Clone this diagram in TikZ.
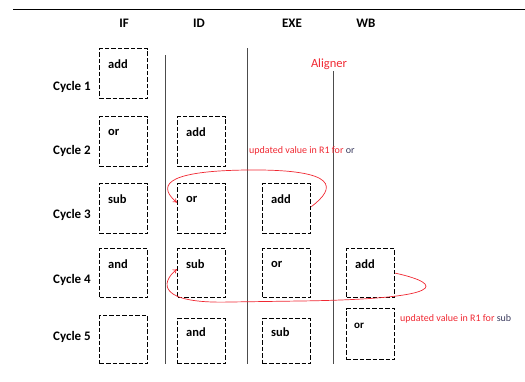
\documentclass[tikz,border=0pt]{standalone}
\usepackage{fontspec}
\setmainfont{Carlito}
\usetikzlibrary{arrows.meta}
\definecolor{redx}{RGB}{240,40,50}
\definecolor{bluegray}{RGB}{60,60,95}
\tikzset{
  stagebox/.style={draw, dashed, dash pattern=on 4.5pt off 2pt, line width=1.3pt, minimum width=48pt, minimum height=50pt, inner sep=0pt, anchor=north west},
  boxtext/.style={font=\fontsize{12.5}{14}\selectfont\bfseries, anchor=west, inner sep=1pt},
  cyclelabel/.style={font=\fontsize{13}{15}\selectfont\bfseries, anchor=east, inner sep=0pt},
  header/.style={font=\fontsize{13}{15}\selectfont\bfseries, inner sep=0pt},
  sep/.style={draw=black!70, line width=0.8pt},
  note/.style={font=\fontsize{10}{12}\selectfont, text=redx, anchor=west, inner sep=0pt},
  fwd/.style={draw=redx, line width=0.7pt, -{To[length=4pt,width=5pt]}}
}
\begin{document}
\begin{tikzpicture}[x=1pt,y=-1pt]
\useasboundingbox (0,0) rectangle (525,381);
\draw[line width=1pt] (13,9.5) -- (525,9.5);
% headers
\node[header] (hIF) at (124,23) {IF};
\node[header] (hID) at (199,23) {ID};
\node[header] (hEXE) at (292,23) {EXE};
\node[header] (hWB) at (366,23) {WB};
% separators
\draw[sep] (165,55) -- (165,364);
\draw[sep] (247,48) -- (247,364);
\draw[sep] (333,71) -- (333,364);
\node[font=\fontsize{12.5}{14}\selectfont, text=redx] (aligner) at (329,64) {Aligner};
% cycle labels
\node[cyclelabel] (c1) at (91,87) {Cycle 1};
\node[cyclelabel] (c2) at (91,151) {Cycle 2};
\node[cyclelabel] (c3) at (91,215) {Cycle 3};
\node[cyclelabel] (c4) at (91,280) {Cycle 4};
\node[cyclelabel] (c5) at (91,337) {Cycle 5};
% IF column
\node[stagebox] (if1) at (99,48) {};
\node[stagebox] (if2) at (99,116) {};
\node[stagebox] (if3) at (99,183) {};
\node[stagebox, minimum height=49pt] (if4) at (99,248) {};
\node[stagebox, minimum height=48pt] (if5) at (99,315) {};
% ID column
\node[stagebox] (id2) at (177,116) {};
\node[stagebox] (id3) at (177,183) {};
\node[stagebox, minimum height=49pt] (id4) at (177,248) {};
\node[stagebox, minimum height=45pt] (id5) at (177,318) {};
% EXE column
\node[stagebox] (ex3) at (262,183) {};
\node[stagebox, minimum height=49pt] (ex4) at (262,248) {};
\node[stagebox, minimum height=45pt] (ex5) at (262,318) {};
% WB column
\node[stagebox, minimum height=49pt] (wb4) at (346,248) {};
\node[stagebox, minimum height=51pt] (wb5) at (346,308) {};
% box texts
\node[boxtext] (tif1) at ([xshift=8pt,yshift=-16pt]if1.north west) {add};
\node[boxtext] (tif2) at ([xshift=8pt,yshift=-16pt]if2.north west) {or};
\node[boxtext] (tif3) at ([xshift=8pt,yshift=-16pt]if3.north west) {sub};
\node[boxtext] (tif4) at ([xshift=8pt,yshift=-16pt]if4.north west) {and};
\node[boxtext] (tid2) at ([xshift=8pt,yshift=-16pt]id2.north west) {add};
\node[boxtext] (tid3) at ([xshift=8pt,yshift=-16pt]id3.north west) {or};
\node[boxtext] (tid4) at ([xshift=8pt,yshift=-16pt]id4.north west) {sub};
\node[boxtext] (tid5) at ([xshift=8pt,yshift=-14pt]id5.north west) {and};
\node[boxtext] (tex3) at ([xshift=8pt,yshift=-16pt]ex3.north west) {add};
\node[boxtext] (tex4) at ([xshift=8pt,yshift=-16pt]ex4.north west) {or};
\node[boxtext] (tex5) at ([xshift=8pt,yshift=-14pt]ex5.north west) {sub};
\node[boxtext] (twb4) at ([xshift=8pt,yshift=-16pt]wb4.north west) {add};
\node[boxtext, font=\fontsize{11}{13}\selectfont\bfseries] (twb5) at ([xshift=7pt,yshift=-18pt]wb5.north west) {or};
% notes
\node[note] (n1) at (249,151) {updated value in R1 for \textcolor{bluegray}{or}};
\node[note] (n2) at (400,319) {updated value in R1 for \textcolor{bluegray}{sub}};
% forwarding curves
\draw[fwd] ([yshift=2pt]ex3.east) .. controls (336,188) and (340,169) .. (247,170)
  .. controls (158,171) and (160,188) .. ([yshift=6pt]id3.west);
\draw[fwd] (wb4.east) .. controls (445,284) and (448,299) .. (300,301)
  -- (230,302) .. controls (158,304) and (160,283) .. ([yshift=4pt]id4.west);
\end{tikzpicture}
\end{document}
